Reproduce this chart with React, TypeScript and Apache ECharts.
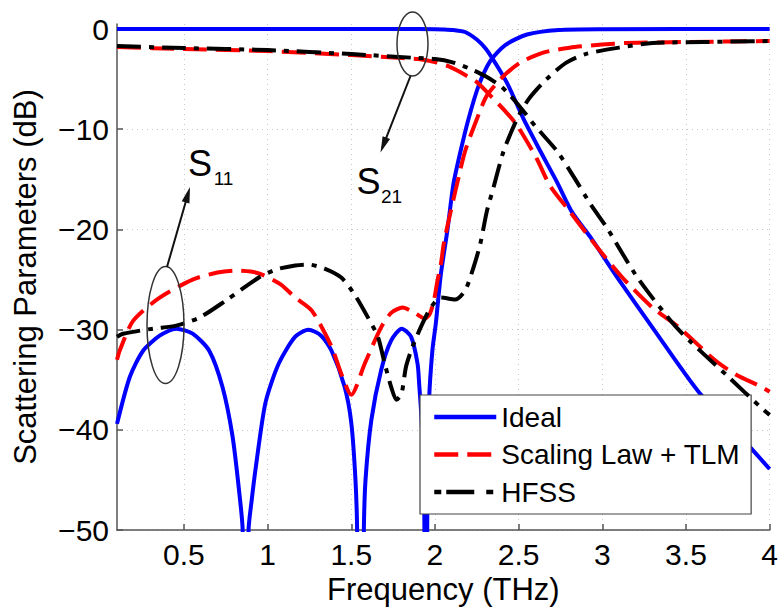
import React, { useEffect, useRef } from 'react';
import * as echarts from 'echarts';

// ---- axes ----
const xTicks = [0.5, 1, 1.5, 2, 2.5, 3, 3.5, 4];
const yTicks = [-50, -40, -30, -20, -10, 0];

// ---- Ideal ----
const idealS21F = [0.1, 1.0, 1.8, 2.0, 2.05, 2.11, 2.18, 2.25, 2.3, 2.34, 2.39, 2.44, 2.53, 2.63, 2.73, 2.82, 2.93, 3.09, 3.3, 3.575, 3.8, 4.0];
const idealS21 = [0, 0, 0, -0.02, -0.04, -0.1, -0.3, -1.05, -1.9, -2.85, -4.2, -5.7, -9.0, -12.2, -15.3, -18.3, -20.8, -24.8, -29.8, -36.2, -40.2, -43.9];

const idealS11F = [0.1, 0.177, 0.256, 0.355, 0.454, 0.552, 0.651, 0.73, 0.79, 0.829, 0.851, 0.868, 0.886, 0.905, 0.928, 0.987, 1.066, 1.165, 1.244, 1.32, 1.382, 1.46, 1.5, 1.525, 1.535, 1.555, 1.575, 1.585, 1.62, 1.679, 1.738, 1.802, 1.857, 1.896, 1.906, 1.92, 1.935, 1.945, 1.955, 1.965, 1.985, 2.005, 2.035, 2.075, 2.11, 2.15, 2.2, 2.26, 2.33, 2.42, 2.55, 2.74, 3.0, 4.0];
const idealS11 = [-39.4, -34.7, -32.1, -30.6, -29.9, -30.4, -32.1, -35.7, -40.6, -46.0, -50, -75, -50, -47.0, -43.9, -37.3, -33.4, -30.7, -30.0, -30.6, -32.1, -35.7, -39.3, -45.0, -50, -75, -50, -45.0, -39.0, -34.0, -31.1, -29.9, -30.7, -33.4, -35.5, -39.0, -46.0, -75, -46.0, -37.0, -32.0, -29.4, -24.5, -20.0, -15.5, -12.4, -9.0, -5.7, -3.2, -1.6, -0.55, -0.1, -0.02, 0];

// ---- Scaling Law + TLM ----
const tlmS21F = [0.1, 0.5, 1.0, 1.5, 1.8, 1.9, 2.0, 2.08, 2.15, 2.25, 2.34, 2.42, 2.49, 2.607, 2.686, 2.805, 2.98, 3.12, 3.3, 3.457, 3.67, 3.8, 3.95, 4.0];
const tlmS21 = [-1.8, -2.0, -2.2, -2.6, -2.9, -3.0, -3.3, -3.7, -4.3, -5.3, -6.8, -8.2, -9.6, -12.9, -15.6, -18.2, -22.0, -24.8, -27.8, -29.75, -33.0, -34.5, -35.7, -36.2];

const tlmS11F = [0.1, 0.118, 0.197, 0.355, 0.552, 0.7, 0.81, 0.9, 0.967, 1.08, 1.165, 1.264, 1.382, 1.44, 1.5, 1.58, 1.679, 1.74, 1.807, 1.876, 1.94, 1.97, 1.995, 2.015, 2.035, 2.054, 2.094, 2.13, 2.18, 2.25, 2.31, 2.41, 2.51, 2.647, 2.805, 3.0, 3.14, 3.5, 4.0];
const tlmS11 = [-33.0, -32.0, -29.1, -26.8, -25.0, -24.3, -24.1, -24.2, -24.5, -25.5, -26.8, -28.1, -31.7, -34.4, -36.5, -33.4, -29.75, -28.3, -27.8, -28.3, -28.9, -28.4, -27.0, -25.1, -23.5, -21.3, -18.2, -15.6, -12.2, -9.0, -6.65, -4.7, -3.35, -2.36, -1.86, -1.55, -1.4, -1.3, -1.2];

// ---- HFSS ----
const hfssS21F = [0.1, 0.5, 1.0, 1.5, 1.9, 2.0, 2.1, 2.2, 2.3, 2.4, 2.5, 2.6, 2.73, 2.835, 2.93, 3.03, 3.21, 3.45, 3.753, 3.95, 4.0];
const hfssS21 = [-1.7, -1.9, -2.1, -2.5, -2.9, -3.0, -3.3, -3.9, -4.7, -5.8, -7.6, -9.7, -12.2, -14.9, -17.5, -19.9, -24.8, -29.9, -34.7, -37.8, -38.5];

const hfssS11F = [0.1, 0.137, 0.315, 0.454, 0.592, 0.75, 0.948, 1.05, 1.165, 1.244, 1.34, 1.44, 1.52, 1.6, 1.659, 1.70, 1.738, 1.77, 1.80, 1.827, 1.866, 1.925, 1.975, 2.035, 2.12, 2.18, 2.23, 2.27, 2.31, 2.35, 2.41, 2.49, 2.56, 2.667, 2.785, 2.9, 3.1, 3.3, 3.6, 4.0];
const hfssS11 = [-30.7, -30.4, -29.9, -29.6, -28.8, -27.1, -24.8, -24.0, -23.6, -23.5, -23.9, -24.8, -26.5, -28.8, -30.7, -33.4, -35.7, -37.0, -36.4, -33.7, -31.7, -29.4, -27.8, -26.8, -27.0, -26.1, -23.8, -21.5, -18.2, -15.8, -12.2, -9.0, -7.0, -5.0, -3.35, -2.5, -1.86, -1.4, -1.3, -1.2];

const legendNames = ['Ideal', 'Scaling Law + TLM', 'HFSS'];

const FONT = "'Liberation Sans', Arial, Helvetica, sans-serif";
const BLUE = '#0000ff';
const RED = '#ff0000';
const BLACK = '#000000';
const DASH = [24, 9];
const DASHDOT = [24, 8, 5, 8];

function mkSeries(name: string, fx: number[], vy: number[], color: string, type: any, z: number) {
  return {
    type: 'line',
    name,
    data: fx.map((x, i) => [x, vy[i]]),
    symbol: 'none',
    showSymbol: false,
    smooth: 0.25,
    clip: true,
    silent: true,
    z,
    itemStyle: { color },
    lineStyle: { color, width: 4, type, cap: 'butt', join: 'round' },
  };
}

function arrow(x1: number, y1: number, x2: number, y2: number) {
  const dx = x2 - x1, dy = y2 - y1;
  const L = Math.sqrt(dx * dx + dy * dy);
  const ux = dx / L, uy = dy / L;
  const hl = 16, hw = 4;
  const bx = x2 - ux * hl, by = y2 - uy * hl;
  const px = -uy, py = ux;
  return [
    { type: 'line', shape: { x1, y1, x2: bx + ux * 2, y2: by + uy * 2 }, style: { stroke: '#111', lineWidth: 2 }, z: 100 },
    {
      type: 'polygon',
      shape: { points: [[x2, y2], [bx + px * hw, by + py * hw], [bx - px * hw, by - py * hw]] },
      style: { fill: '#111', stroke: 'none' },
      z: 100,
    },
  ];
}

export default function App() {
  const ref = useRef<HTMLDivElement>(null);
  useEffect(() => {
    document.body.style.margin = '0';
    const chart = echarts.init(ref.current!, null, { renderer: 'svg' });
    const minus = (v: number) => (v < 0 ? '\u2212' + Math.abs(v) : String(v));
    const option: any = {
      animation: false,
      backgroundColor: '#ffffff',
      grid: { left: 117, right: 8, top: 24, bottom: 76, containLabel: false },
      xAxis: {
        type: 'value',
        min: 0.1,
        max: 4,
        name: 'Frequency (THz)',
        nameLocation: 'middle',
        nameGap: 41,
        nameTextStyle: { fontSize: 31, fontFamily: FONT, color: '#000' },
        axisLine: { show: true, onZero: false, lineStyle: { color: '#555', width: 1.5 } },
        axisTick: { show: true, inside: true, length: 6, customValues: xTicks, lineStyle: { color: '#555', width: 1.5 } },
        axisLabel: { customValues: xTicks, fontSize: 30, fontFamily: FONT, color: '#000', margin: 9, formatter: (v: number) => String(v) },
        splitLine: { show: true, lineStyle: { color: '#c8c8c8', type: [1, 4], width: 1 } },
      },
      yAxis: {
        type: 'value',
        min: -50,
        max: 0.5,
        name: 'Scattering Parameters (dB)',
        nameLocation: 'middle',
        nameGap: 76,
        nameTextStyle: { fontSize: 31, fontFamily: FONT, color: '#000' },
        axisLine: { show: true, onZero: false, lineStyle: { color: '#555', width: 1.5 } },
        axisTick: { show: true, inside: true, length: 6, customValues: yTicks, lineStyle: { color: '#555', width: 1.5 } },
        axisLabel: { customValues: yTicks, fontSize: 30, fontFamily: FONT, color: '#000', margin: 8, formatter: minus },
        splitLine: { show: true, lineStyle: { color: '#c8c8c8', type: [1, 4], width: 1 } },
      },
      legend: {
        orient: 'vertical',
        left: 420,
        top: 395,
        padding: [8, 11, 8, 12],
        itemGap: 9.5,
        itemWidth: 62,
        itemHeight: 24,
        backgroundColor: '#ffffff',
        borderColor: '#444',
        borderWidth: 1.2,
        borderRadius: 0,
        textStyle: { fontSize: 28, fontFamily: FONT, color: '#000', lineHeight: 28 },
        itemStyle: { opacity: 0 },
        data: [
          { name: legendNames[0], lineStyle: { width: 4.5, type: 'solid' } },
          { name: legendNames[1], lineStyle: { width: 4.5, type: [24, 9] } },
          { name: legendNames[2], lineStyle: { width: 4.5, type: [7, 5, 28, 12] } },
        ],
        selectedMode: false,
      },
      series: [
        mkSeries(legendNames[0], idealS21F, idealS21, BLUE, 'solid', 2),
        mkSeries(legendNames[1], tlmS21F, tlmS21, RED, DASH, 3),
        mkSeries(legendNames[2], hfssS21F, hfssS21, BLACK, DASHDOT, 4),
        mkSeries(legendNames[0], idealS11F, idealS11, BLUE, 'solid', 2),
        mkSeries(legendNames[1], tlmS11F, tlmS11, RED, DASH, 3),
        mkSeries(legendNames[2], hfssS11F, hfssS11, BLACK, DASHDOT, 4),
      ],
      graphic: [
        { type: 'ellipse', shape: { cx: 165.5, cy: 325, rx: 18.5, ry: 58.5 }, style: { fill: 'none', stroke: '#333', lineWidth: 1.5 }, z: 100 },
        ...arrow(167, 267, 190, 187),
        { type: 'ellipse', shape: { cx: 412.5, cy: 44, rx: 15.5, ry: 32 }, style: { fill: 'none', stroke: '#333', lineWidth: 1.5 }, z: 100 },
        ...arrow(410.5, 76, 380.5, 152.5),
        { type: 'text', x: 200, y: 163.5, style: { text: 'S', fontSize: 36, fontFamily: FONT, fill: '#000', align: 'center', verticalAlign: 'middle' }, z: 100 },
        { type: 'text', x: 223.5, y: 178.5, style: { text: '11', fontSize: 19, fontFamily: FONT, fill: '#000', align: 'center', verticalAlign: 'middle' }, z: 100 },
        { type: 'text', x: 368.5, y: 181.5, style: { text: 'S', fontSize: 36, fontFamily: FONT, fill: '#000', align: 'center', verticalAlign: 'middle' }, z: 100 },
        { type: 'text', x: 391.5, y: 196.5, style: { text: '21', fontSize: 19, fontFamily: FONT, fill: '#000', align: 'center', verticalAlign: 'middle' }, z: 100 },
      ],
    };
    chart.setOption(option);
    return () => chart.dispose();
  }, []);
  return <div ref={ref} style={{ width: 781, height: 610 }} />;
}
